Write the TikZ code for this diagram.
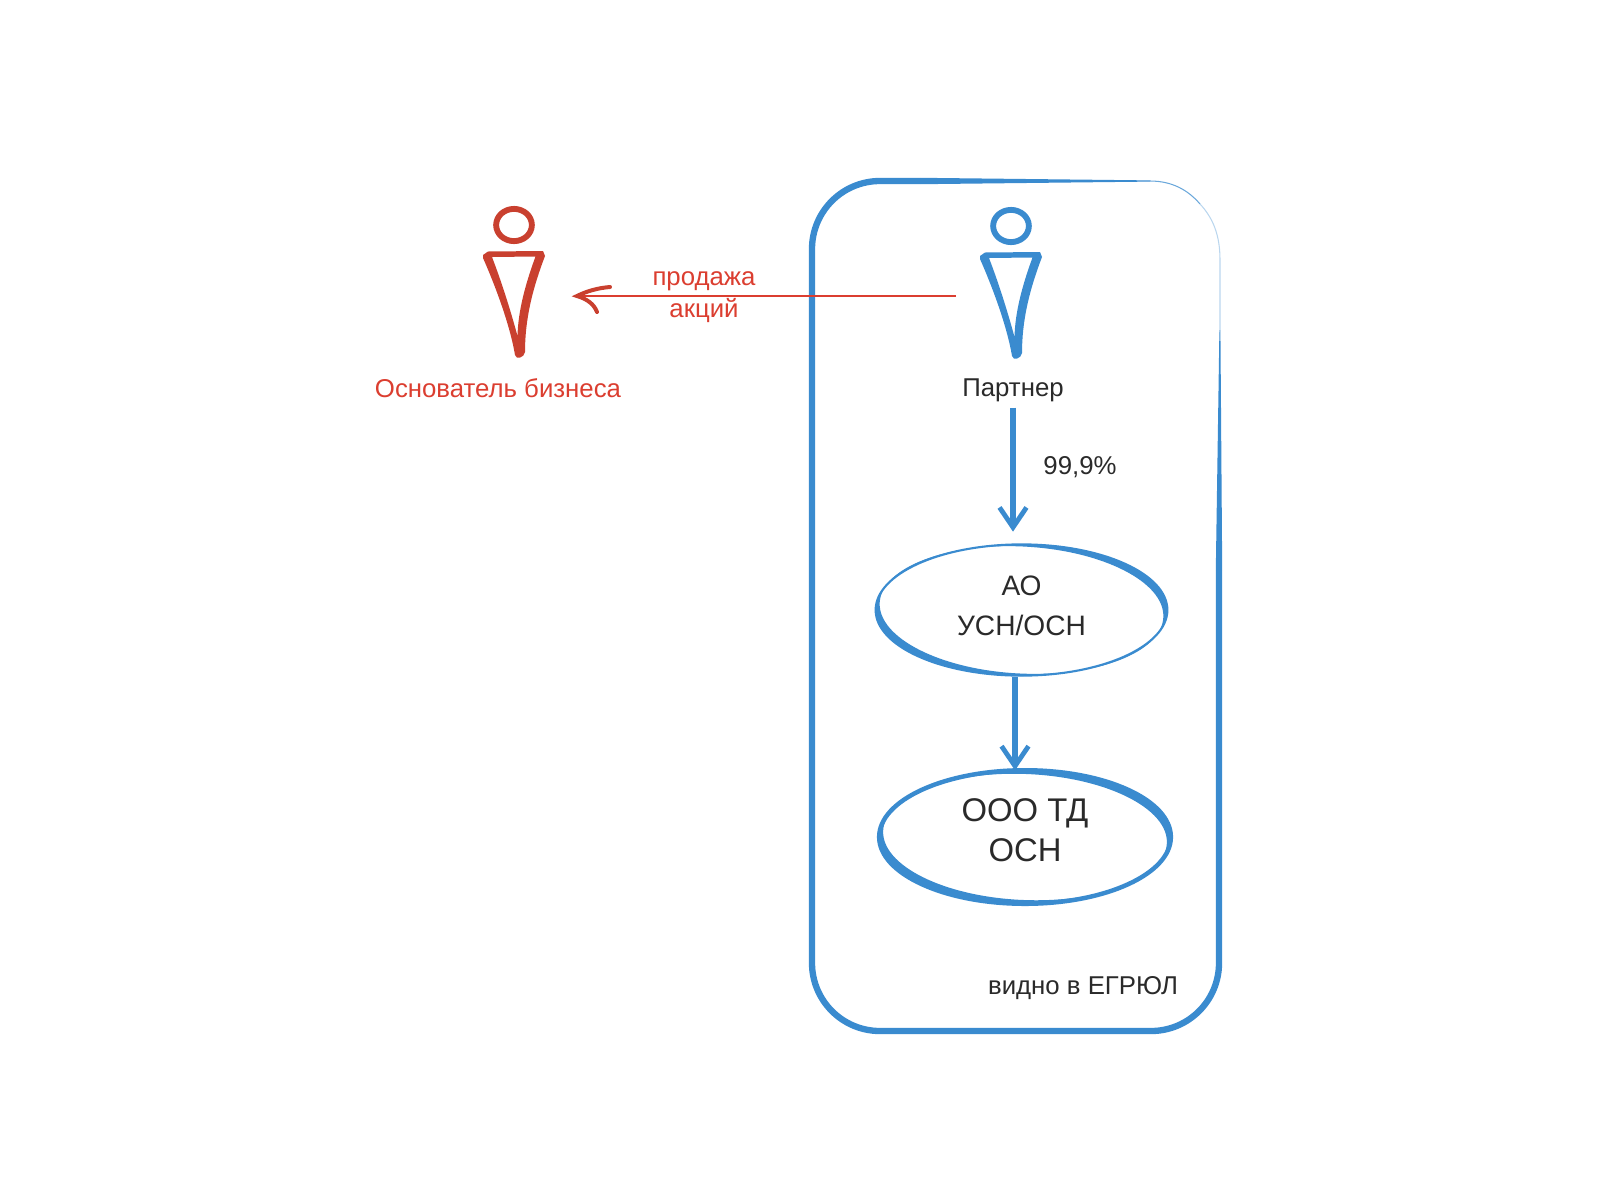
\documentclass[tikz,border=0pt]{standalone}
\usepackage{fontspec}
\setmainfont{Liberation Sans}
\usepackage{xcolor}
\usetikzlibrary{arrows.meta,shapes.geometric}

\definecolor{planblue}{HTML}{3A8BCF}
\definecolor{figred}{HTML}{C9402F}
\definecolor{textred}{HTML}{DB3E30}
\definecolor{textdark}{HTML}{2A2A2A}

\tikzset{
  label text/.style={inner sep=0pt, text=textdark, font=\fontsize{22}{26}\selectfont},
  red text/.style={inner sep=0pt, text=textred, font=\fontsize{22}{27}\selectfont, align=center},
  company/.style={shape=ellipse, draw=planblue, inner sep=0pt, align=center, text=textdark},
  blue arrow/.style={draw=planblue, line width=4.5pt,
    -{Straight Barb[length=17pt,width=23pt,line width=4.1pt]}}
}

\begin{document}
\begin{tikzpicture}[x=0.03cm,y=-0.03cm]
\useasboundingbox (0,0) rectangle (1600,1199);

% =========================================================
% Frame
% =========================================================
\draw[planblue, line width=5.4pt, rounded corners=2.04cm]
  (1219,570) -- (1219,1031) -- (812,1031) -- (812,181) -- (920,181);
\fill[planblue] (920,177.8) -- (1150,180.4) -- (1150,181.6) -- (920,184.2) -- cycle;
\fill[planblue] (1215.8,570) -- (1219.4,330) -- (1220.4,330) -- (1222.2,570) -- cycle;
\draw[planblue!75, line width=0.9pt] (1150,181) .. controls (1172,181) and (1188,190) .. (1200,204);
\draw[planblue!35, line width=0.9pt] (1200,204) .. controls (1213,218) and (1220,235) .. (1220,260) -- (1220,332);

% =========================================================
% Founder
% =========================================================
\begin{scope}[shift={(0,0)}]
\node[shape=ellipse, draw=figred, line width=5pt, minimum width=30.5pt, minimum height=27.5pt, inner sep=0pt] (founderHead) at (514,225) {};
\fill[figred, even odd rule]
  (483,255) -- (488,251.5) -- (543,251) -- (545,256)
  .. controls (532,290) and (525,320) .. (525,352)
  .. controls (524,358) and (516,360) .. (515,355)
  .. controls (510,325) and (495,285) .. (483,258) -- cycle
  (492,257) -- (535.5,256.5)
  .. controls (525,285) and (518,312) .. (517.5,336)
  .. controls (511,312) and (502,283) .. (492,257) -- cycle;
\end{scope}
\node[red text] (founderName) at (498,388) {Основатель бизнеса};

% =========================================================
% Partner
% =========================================================
\begin{scope}[shift={(497,1)}]
\node[shape=ellipse, draw=planblue, line width=5pt, minimum width=30.5pt, minimum height=27.5pt, inner sep=0pt] (partnerHead) at (514,225) {};
\fill[planblue, even odd rule]
  (483,255) -- (488,251.5) -- (543,251) -- (545,256)
  .. controls (532,290) and (525,320) .. (525,352)
  .. controls (524,358) and (516,360) .. (515,355)
  .. controls (510,325) and (495,285) .. (483,258) -- cycle
  (492,257) -- (535.5,256.5)
  .. controls (525,285) and (518,312) .. (517.5,336)
  .. controls (511,312) and (502,283) .. (492,257) -- cycle;
\end{scope}
\node[label text] (partnerName) at (1013,390) {Партнер};

% Sale of shares
\coordinate (partnerSide) at (956,296);
\coordinate (founderSide) at (577,296);
\draw[textred, line width=1.4pt] (partnerSide) -- (founderSide);
\draw[figred, line width=3.4pt, line cap=round] (610,287) .. controls (598,288) and (587,291) .. (founderSide)
  .. controls (587,299) and (594,304) .. (597,312);
\node[red text] (saleLabel) at (704,281) {продажа};
\node[red text] (saleLabelTwo) at (704,310) {акций};

% =========================================================
% Companies
% =========================================================
\node[company, line width=1.8pt, minimum width=249pt, minimum height=112pt, font=\fontsize{24}{34}\selectfont] (aoNode) at (1021.5,610)
  {АО\\УСН/ОСН\rule[-8pt]{0pt}{8pt}};
\fill[planblue, even odd rule] (aoNode.center) ellipse [x radius=146, y radius=66]
  (aoNode.center) ellipse [x radius=142, y radius=63.5, rotate=-3];

\node[company, line width=3.8pt, minimum width=249pt, minimum height=114pt, font=\fontsize{28}{34}\selectfont] (oooNode) at (1025,837)
  {ООО ТД\\ОСН\rule[-12pt]{0pt}{12pt}};
\fill[planblue, even odd rule] (oooNode.center) ellipse [x radius=146, y radius=67]
  (oooNode.center) ellipse [x radius=142, y radius=63, rotate=-2.5];

% Ownership
\draw[blue arrow, shorten <=5pt, shorten >=10pt] (partnerName.south) -- (partnerName.south |- aoNode.north);
\draw[blue arrow, shorten >=-2pt] (aoNode.south -| 1015,0) -- (oooNode.north -| 1015,0);
\node[label text] (shareLabel) at (1080,467) {99,9\%};

\node[label text] (registryLabel) at (1083,988) {видно в ЕГРЮЛ};

\end{tikzpicture}
\end{document}
